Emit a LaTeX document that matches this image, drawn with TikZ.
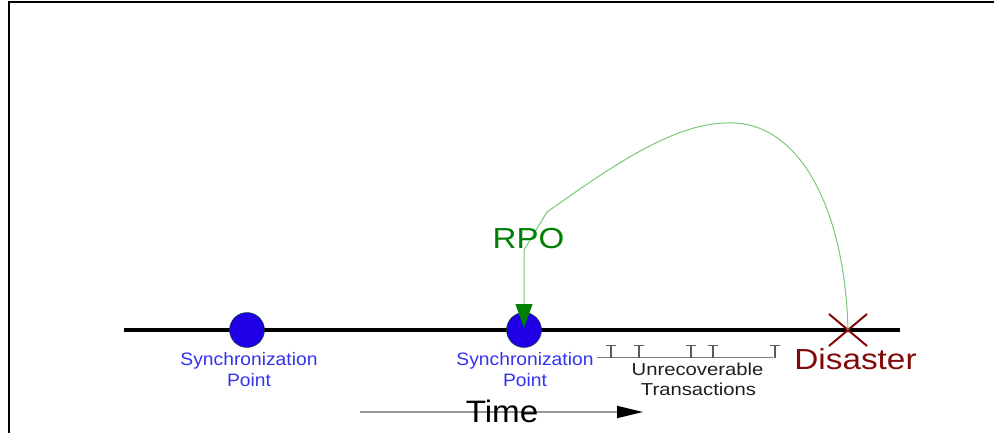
\documentclass[tikz,border=0pt]{standalone}
\usepackage{fontspec}
\setmainfont{Liberation Sans}
\usetikzlibrary{arrows.meta}
\definecolor{dotblue}{RGB}{32,0,230}
\definecolor{syncblue}{RGB}{50,50,240}
\definecolor{rpogreen}{RGB}{0,128,0}
\definecolor{curvegreen}{RGB}{120,200,120}
\definecolor{disred}{RGB}{128,10,10}
\definecolor{txtdark}{RGB}{30,30,30}
\definecolor{tickgray}{RGB}{90,90,90}
\definecolor{timegray}{RGB}{150,150,150}
\tikzset{
  lbl/.style={anchor=base, inner sep=0pt},
  synctext/.style={lbl, text=syncblue, font=\fontsize{18}{20}\selectfont},
  synpt/.style={circle, minimum size=35pt, inner sep=0pt, fill=dotblue, draw=black!70!green, line width=0.4pt},
  tickmark/.style={draw=tickgray, line width=1.3pt},
}
\begin{document}
\begin{tikzpicture}[x=1pt,y=-1pt]
\useasboundingbox (0,0) rectangle (994,433);
% frame
\coordinate (fTL) at (9,2);
\coordinate (fTR) at (994,2);
\coordinate (fBL) at (9,433);
\draw[line width=2.5pt] (fTR) -- (fTL) -- (fBL);

% main timeline
\coordinate (lineL) at (124,330);
\coordinate (lineR) at (900,330);
\draw[line width=4pt] (lineL) -- (lineR);

% synchronization points
\node[synpt] (sp1) at (247,330) {};
\node[synpt] (sp2) at (524,330) {};
\node[synctext] (sp1a) at (249,365) {\scalebox{1.07}[1]{Synchronization}};
\node[synctext] (sp1b) at (249,386) {\scalebox{1.07}[1]{Point}};
\node[synctext] (sp2a) at (525,365) {\scalebox{1.07}[1]{Synchronization}};
\node[synctext] (sp2b) at (525,386) {\scalebox{1.07}[1]{Point}};

% disaster mark
\coordinate (dis) at (848,330);
\draw[disred, line width=2pt] ([shift={(-19,-16)}]dis) -- ([shift={(19,16)}]dis)
                              ([shift={(-19,16)}]dis) -- ([shift={(19,-16)}]dis);
\node[lbl, text=disred, font=\fontsize{29}{32}\selectfont] (distext) at (855.5,369.5) {\scalebox{1.15}[1]{Disaster}};

% RPO connector
\coordinate (c1) at (727,123);
\coordinate (c2) at (547,212);
\coordinate (c3) at (524,250);
\draw[curvegreen, line width=1pt, -{Triangle[length=24pt,width=17pt,color=rpogreen]}]
  (dis) .. controls (845,210) and (800,120) .. (c1)
        .. controls (670,123) and (600,175) .. (c2)
        -- (c3) -- ([yshift=2pt]sp2.center);
\node[lbl, text=rpogreen, font=\fontsize{29}{32}\selectfont] (rpo) at (528.5,248) {\scalebox{1.14}[1]{RPO}};

% unrecoverable transactions
\coordinate (tbL) at (597,357.5);
\coordinate (tbR) at (773,357.5);
\draw[tickgray!80, line width=1.2pt] (tbL) -- (tbR);
\foreach \tx in {611,639,691,713,775} {
  \draw[tickmark] (\tx,357.5) -- (\tx,345.5) (\tx-5,345.5) -- (\tx+5,345.5);
}
\node[lbl, text=txtdark, font=\fontsize{17.3}{19}\selectfont] (ut1) at (697.5,375.7) {\scalebox{1.17}[1]{Unrecoverable}};
\node[lbl, text=txtdark, font=\fontsize{17.3}{19}\selectfont] (ut2) at (698.5,395.7) {\scalebox{1.17}[1]{Transactions}};

% time arrow
\coordinate (tL) at (360,412);
\coordinate (tR) at (643,412);
\draw[timegray, line width=1.8pt, -{Triangle[length=26pt,width=12pt,color=black]}] (tL) -- (tR);
\node[lbl, text=black, font=\fontsize{31}{34}\selectfont] (time) at (502,422) {\scalebox{1.07}[1]{Time}};
\end{tikzpicture}
\end{document}
